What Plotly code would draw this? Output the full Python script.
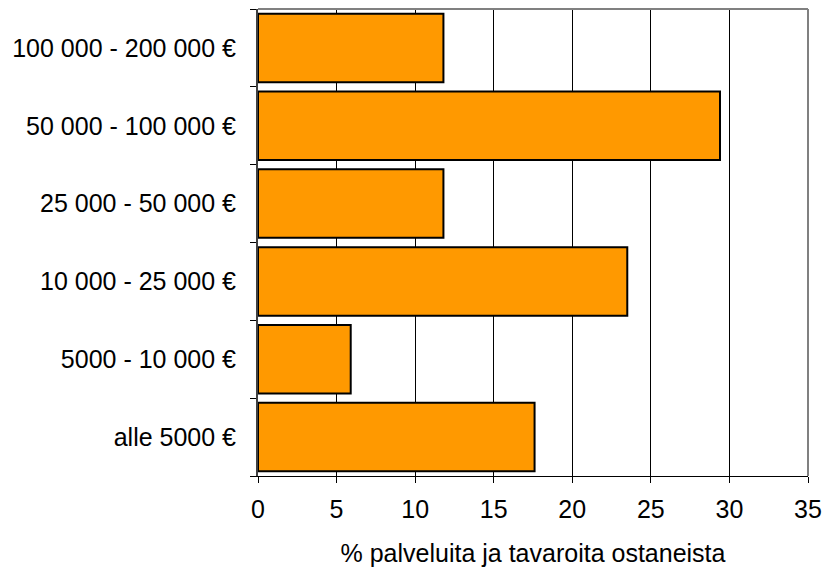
import plotly.graph_objects as go

categories = ["alle 5000 €", "5000 - 10 000 €", "10 000 - 25 000 €",
              "25 000 - 50 000 €", "50 000 - 100 000 €", "100 000 - 200 000 €"]
values = [17.6, 5.9, 23.5, 11.8, 29.4, 11.8]
x_ticks = [0, 5, 10, 15, 20, 25, 30, 35]
x_title = "% palveluita ja tavaroita ostaneista"

FONT = "Liberation Sans, Arial, sans-serif"
FS = 25

fig = go.Figure(go.Bar(
    y=categories, x=values, orientation="h",
    marker=dict(color="#FF9900", line=dict(color="#000000", width=2)),
    width=0.88,
    hoverinfo="skip",
))

fig.update_layout(
    width=826, height=567,
    margin=dict(l=258, r=18, t=9, b=91, autoexpand=False),
    plot_bgcolor="white", paper_bgcolor="white",
    font=dict(family=FONT, size=FS, color="#000000"),
    showlegend=False,
    shapes=[
        dict(type="line", xref="paper", yref="paper", x0=0, x1=1, y0=1, y1=1,
             line=dict(color="#808080", width=2)),
        dict(type="line", xref="paper", yref="paper", x0=1, x1=1, y0=0, y1=1,
             line=dict(color="#808080", width=2)),
    ],
)
fig.update_xaxes(
    range=[0, 35.0001], tickvals=x_ticks, ticktext=[str(t) for t in x_ticks],
    showgrid=True, gridcolor="#000000", gridwidth=1,
    showline=True, linecolor="#000000", linewidth=1,
    ticks="outside", ticklen=6, tickcolor="#000000",
    zeroline=False, automargin=False, ticklabeloverflow="allow",
    ticklabelstandoff=5,
    tickfont=dict(family=FONT, size=FS, color="#000000"),
    title=dict(text=x_title, standoff=22, font=dict(family=FONT, size=FS, color="#000000")),
)
fig.update_yaxes(
    categoryorder="array", categoryarray=categories,
    showline=True, linecolor="#404040", linewidth=2,
    ticks="outside", ticklen=6, tickcolor="#000000", tickson="boundaries",
    showgrid=False, ticklabelstandoff=15, automargin=False,
    tickfont=dict(family=FONT, size=FS, color="#000000"),
)

fig.write_html("out.html", config={"displayModeBar": False},
               post_script="document.body.style.margin='0';")
